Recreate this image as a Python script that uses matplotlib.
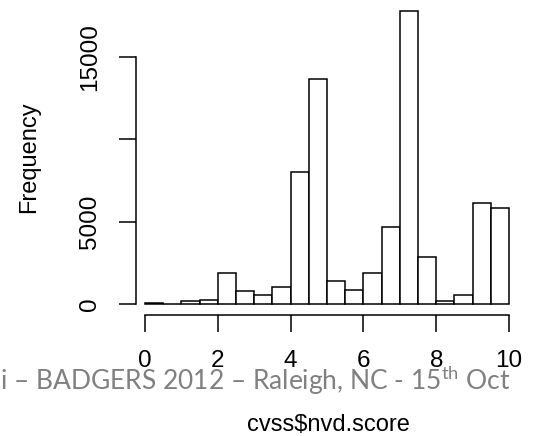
import numpy as np
import matplotlib
matplotlib.use('Agg')
import matplotlib.pyplot as plt

# histogram of cvss scores, bins of width 0.5
bin_edges = np.arange(0, 10.5, 0.5)
counts = [40, 20, 180, 240, 1900, 810, 530, 1050, 8020, 13680,
          1420, 830, 1900, 4680, 17810, 2860, 200, 530, 6120, 5850]
x_ticks = [0, 2, 4, 6, 8, 10]
y_ticks = [0, 5000, 10000, 15000]
y_tick_labels = ['0', '5000', '', '15000']

plt.rcParams['font.family'] = ['Liberation Sans', 'DejaVu Sans']
plt.rcParams['mathtext.fontset'] = 'custom'
plt.rcParams['mathtext.rm'] = 'Lato'

W, H = 543, 436
fig = plt.figure(figsize=(W / 100, H / 100), dpi=100)

# plot region in pixels
left, right, top, bottom = 136, 523, 0, 315
ax = fig.add_axes([left / W, 1 - bottom / H, (right - left) / W, (bottom - top) / H])

ax.bar(bin_edges[:-1], counts, width=0.5, align='edge',
       facecolor='white', edgecolor='black', linewidth=1.1)

# map data to pixels like the reference: x 0->145px, 10->509px; y 0->304px, 5000 per 82.3px
ux = 10 / 364.0
ax.set_xlim(0 - (145 - left) * ux, 10 + (right - 509) * ux)
uy = 5000 / 82.3
ax.set_ylim(-(bottom - 304) * uy, (304 - top) * uy)

for s in ['top', 'right']:
    ax.spines[s].set_visible(False)
ax.spines['bottom'].set_bounds(0, 10)
ax.spines['left'].set_bounds(0, 15000)
ax.spines['bottom'].set_linewidth(1.1)
ax.spines['left'].set_linewidth(1.1)

ax.set_xticks(x_ticks)
ax.set_yticks(y_ticks)
ax.set_yticklabels(y_tick_labels)
ax.tick_params(axis='both', length=12, width=1.1, labelsize=17.5)
ax.tick_params(axis='x', pad=13.5)
ax.tick_params(axis='y', pad=13)
for lab in ax.get_yticklabels():
    lab.set_rotation(90)
    lab.set_va('center')

fig.text(29 / W, 1 - 157 / H, 'Frequency', rotation=90, fontsize=17,
         ha='center', va='center')
fig.text(328 / W, 1 - 425 / H, r'cvss\$nvd.score', fontsize=17,
         ha='center', va='center')

# slide footer overlapping the chart
fig.text(0, 1 - 390 / H, r'i – BADGERS 2012 – Raleigh, NC - 15$^{\mathrm{th}}$ Oct',
         fontsize=19, color='#808080', family='Lato', ha='left', va='baseline')

fig.savefig('out.png', dpi=100)
